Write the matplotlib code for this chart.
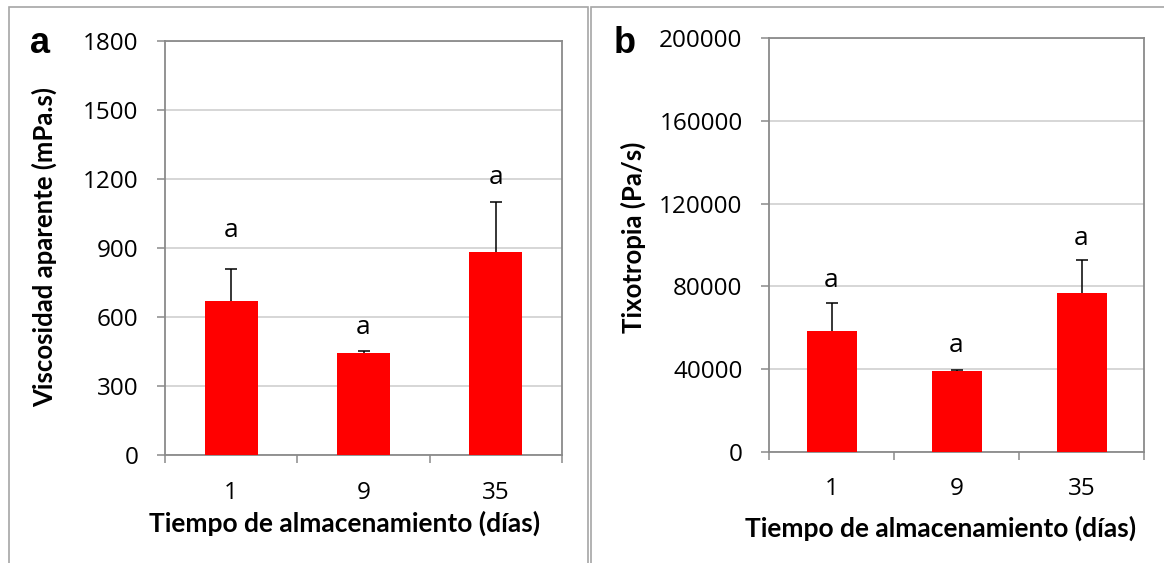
import matplotlib
matplotlib.use("Agg")
import matplotlib.pyplot as plt
from matplotlib.patches import Rectangle

plt.rcParams['font.family'] = ['Open Sans', 'DejaVu Sans']

# data
dias = ['1', '9', '35']
viscosidad = [671, 443, 884]
viscosidad_err = [139, 9, 216]
viscosidad_letras = ['a', 'a', 'a']
viscosidad_letra_y = [946, 526, 1180]

tixotropia = [58300, 39000, 76700]
tixotropia_err = [13500, 500, 16200]
tixotropia_letras = ['a', 'a', 'a']
tixotropia_letra_y = [79600, 48500, 100200]

W, H = 1164, 563
fig = plt.figure(figsize=(W / 100, H / 100), dpi=100)
fig.patch.set_facecolor('white')


def px_axes(left, top, right, bottom):
    return fig.add_axes([left / W, (H - bottom) / H, (right - left) / W, (bottom - top) / H])


# panel frames
for x0, x1 in [(9, 588), (591, 1170)]:
    fig.patches.append(Rectangle((x0 / W, -0.05), (x1 - x0) / W, 1.05 - 7 / H,
                                 transform=fig.transFigure, fill=False,
                                 edgecolor='#a6a6a6', linewidth=1.2))


def draw_panel(ax, values, errs, letters, letter_y, ymax, ystep, ylabel, xpad):
    x = list(range(len(values)))
    tops = [v + e for v, e in zip(values, errs)]
    ax.bar(x, values, width=0.4, color='#ff0000', zorder=3)
    ax.vlines(x, values, tops, color='black', linewidth=1.1, zorder=4)
    ax.plot(x, tops, ls='none', marker='_', markersize=8.6, markeredgewidth=1.1,
            color='black', zorder=4)
    for xi, yv, t in zip(x, letter_y, letters):
        ax.text(xi, yv, t, ha='center', va='baseline', fontsize=19, color='black')
    ax.set_xlim(-0.5, len(values) - 0.5)
    ax.set_ylim(0, ymax)
    ax.set_yticks(range(0, ymax + 1, ystep))
    ax.yaxis.grid(True, color='#cccccc', linewidth=1.1, zorder=0)
    ax.set_axisbelow(True)
    ax.set_xticks([i - 0.5 for i in range(len(values) + 1)])
    ax.set_xticklabels([])
    ax.set_xticks(x, minor=True)
    ax.set_xticklabels(dias, minor=True)
    ax.tick_params(axis='x', which='major', length=6, color='#8a8a8a', width=1.1, direction='out')
    ax.tick_params(axis='x', which='minor', length=0, labelsize=17.5, pad=xpad)
    ax.tick_params(axis='y', length=6, color='#8a8a8a', width=1.1, labelsize=17.5, pad=13)
    for s in ['left', 'bottom', 'right', 'top']:
        ax.spines[s].set_color('#8a8a8a')
        ax.spines[s].set_linewidth(1.3)
    ax.set_ylabel(ylabel, fontsize=18.5, fontweight='bold', family=['Lato', 'DejaVu Sans'])


ax1 = px_axes(165, 41, 562, 455)
draw_panel(ax1, viscosidad, viscosidad_err, viscosidad_letras, viscosidad_letra_y,
           1800, 300, 'Viscosidad aparente (mPa.s)', 19)
ax1.yaxis.set_label_coords(-0.272, 0.502)
fig.text(345 / W, 1 - 523 / H, 'Tiempo de almacenamiento (días)', ha='center', va='center',
         fontsize=19, fontweight='bold', family=['Lato', 'DejaVu Sans'])
fig.text(40 / W, 1 - 53 / H, 'a', ha='center', va='baseline', fontsize=26, fontweight='bold',
         family=['Liberation Sans', 'DejaVu Sans'])

ax2 = px_axes(769, 38, 1144, 452)
draw_panel(ax2, tixotropia, tixotropia_err, tixotropia_letras, tixotropia_letra_y,
           200000, 40000, 'Tixotropia (Pa/s)', 18)
ax2.yaxis.set_label_coords(-0.328, 0.519)
fig.text(941 / W, 1 - 528 / H, 'Tiempo de almacenamiento (días)', ha='center', va='center',
         fontsize=19, fontweight='bold', family=['Lato', 'DejaVu Sans'])
fig.text(625 / W, 1 - 53 / H, 'b', ha='center', va='baseline', fontsize=26, fontweight='bold',
         family=['Liberation Sans', 'DejaVu Sans'])

fig.savefig('out.png', dpi=100, facecolor='white')
